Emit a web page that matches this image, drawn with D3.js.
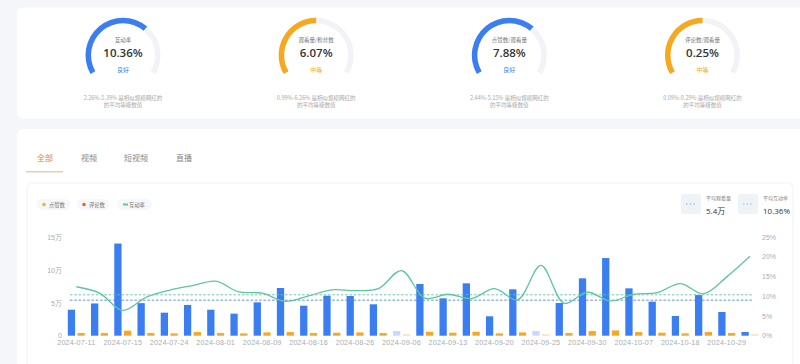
<!DOCTYPE html>
<html><head><meta charset="utf-8">
<script src="https://cdn.jsdelivr.net/npm/d3@7"></script>
<style>
html,body{margin:0;padding:0;background:#f4f6f9;}
svg{display:block;font-family:"Noto Sans CJK SC","Noto Sans",sans-serif;}
</style></head><body>
<svg id="c" width="800" height="364"></svg>
<script>
// ---------- data ----------
const gaugeTitles = ["互动率", "观看量/粉丝数", "点赞数/观看量", "评论数/观看量"];
const gaugeValues = ["10.36%", "6.07%", "7.88%", "0.25%"];
const gaugeRatings = ["良好", "中等", "良好", "中等"];
const gaugeFill = [0.667, 0.5, 0.667, 0.5];
const gaugeRanges = ["2.26%-5.39%", "0.99%-6.26%", "2.44%-5.15%", "0.09%-0.29%"];
const tabs = ["全部", "视频", "短视频", "直播"];
const legendItems = ["点赞数", "评论数", "互动率"];

const dates = ["2024-07-11","2024-07-13","2024-07-15","2024-07-19","2024-07-24","2024-07-28",
  "2024-08-01","2024-08-05","2024-08-09","2024-08-12","2024-08-16","2024-08-21","2024-08-26",
  "2024-09-01","2024-09-06","2024-09-10","2024-09-13","2024-09-17","2024-09-20","2024-09-23",
  "2024-09-25","2024-09-27","2024-09-30","2024-10-03","2024-10-07","2024-10-12","2024-10-18",
  "2024-10-24","2024-10-29","2024-11-03"];
const tickDates = dates.filter((d, i) => i % 2 === 0);
// in 万
const likes = [3.95,4.9,14.0,4.95,3.5,4.67,3.95,3.35,5.07,7.25,4.56,6.08,6.03,4.77,0,7.86,5.68,7.96,2.95,7.05,0,4.97,8.72,11.8,7.2,5.17,3.0,6.18,3.6,0.56];
const comments = [0.4,0.4,0.76,0.4,0.35,0.55,0.4,0.35,0.5,0.55,0.4,0.45,0.5,0.4,0,0.6,0.45,0.6,0.35,0.5,0,0.4,0.7,0.8,0.55,0.45,0.35,0.55,0.4,0];
// %
const rates = [12.4,10.8,6.4,9.7,11.5,12.7,13.8,11.1,10.8,8.7,10.1,11.6,11.4,11.9,16.5,9.5,10.5,9.4,11.9,9.1,17.8,8.2,11.0,8.8,10.5,10.9,13.2,10.6,14.9,20.1];
const leftTicks = [0, 5, 10, 15];
const rightTicks = [0, 5, 10, 15, 20, 25];
const avgViews = 5.4;   // 万
const avgRate = 10.36;  // %

// ---------- draw ----------
const svg = d3.select("#c");
const BLUE = "#3b7ef2", ORANGE = "#f6a81f", GREEN = "#5cc79f";

// cards
svg.append("rect").attr("x", 17).attr("y", 7.5).attr("width", 800).attr("height", 111).attr("rx", 6).attr("fill", "#fff");
svg.append("rect").attr("x", 17).attr("y", 129).attr("width", 800).attr("height", 300).attr("rx", 6).attr("fill", "#fff");

// gauges
const arc = d3.arc().innerRadius(32).outerRadius(37.5);
const a0 = -2 * Math.PI / 3, a1 = 2 * Math.PI / 3;
const gx = d3.scalePoint().domain(d3.range(4)).range([123, 702.5]);
gaugeTitles.forEach((t, i) => {
  const g = svg.append("g").attr("transform", `translate(${gx(i)},55.3)`);
  const col = gaugeRatings[i] === "良好" ? "#3b7ef2" : "#f6a81f";
  g.append("path").attr("d", arc({startAngle: a0, endAngle: a1})).attr("fill", "#f1f3f6");
  g.append("path").attr("d", arc({startAngle: a0, endAngle: a0 + (a1 - a0) * gaugeFill[i]})).attr("fill", col);
  g.append("text").attr("y", -15.3).attr("text-anchor", "middle").attr("dominant-baseline", "central")
    .attr("font-size", 5.5).attr("fill", "#777").text(t);
  g.append("text").attr("y", -3).attr("text-anchor", "middle").attr("dominant-baseline", "central")
    .attr("font-size", 11.5).attr("font-weight", 600).attr("fill", "#333")
    .attr("font-family", "'Open Sans','Noto Sans',sans-serif").text(gaugeValues[i]);
  g.append("text").attr("y", 14).attr("text-anchor", "middle").attr("dominant-baseline", "central")
    .attr("font-size", 6).attr("fill", col).text(gaugeRatings[i]);
  g.append("text").attr("y", 42.4).attr("text-anchor", "middle").attr("dominant-baseline", "central")
    .attr("font-size", 5.5).attr("fill", "#aaa").text(gaugeRanges[i] + " 是相似规模网红的");
  g.append("text").attr("y", 49.4).attr("text-anchor", "middle").attr("dominant-baseline", "central")
    .attr("font-size", 5.5).attr("fill", "#aaa").text("的平均等级数值");
});

// tabs
const tabX = [37, 81, 124, 176];
tabs.forEach((t, i) => {
  svg.append("text").attr("x", tabX[i]).attr("y", 157).attr("dominant-baseline", "central")
    .attr("font-size", 8).attr("fill", i === 0 ? "#e8833a" : "#888").text(t);
});
svg.append("rect").attr("x", 26).attr("y", 171).attr("width", 37).attr("height", 1.5).attr("fill", "#e3d0b4");

// inner panel
svg.append("rect").attr("x", 27).attr("y", 183).attr("width", 766).attr("height", 220).attr("rx", 5)
  .attr("fill", "#fff").attr("stroke", "#f1f2f4");

// legend
const pillX = [37, 77, 117], pillW = [33, 32, 35];
const legCols = ["#f5b31c", "#e8622a", GREEN];
legendItems.forEach((t, i) => {
  svg.append("rect").attr("x", pillX[i]).attr("y", 199).attr("width", pillW[i]).attr("height", 11).attr("rx", 5.5).attr("fill", "#f5f7fa");
  if (i < 2) svg.append("circle").attr("cx", pillX[i] + 7).attr("cy", 204.5).attr("r", 1.8).attr("fill", legCols[i]);
  else svg.append("line").attr("x1", pillX[i] + 6).attr("x2", pillX[i] + 11).attr("y1", 204.5).attr("y2", 204.5).attr("stroke", legCols[i]).attr("stroke-width", 2);
  svg.append("text").attr("x", pillX[i] + 12).attr("y", 204.7).attr("dominant-baseline", "central")
    .attr("font-size", 5.3).attr("fill", "#777").text(t);
});

// average boxes
const boxes = [{x: 681, label: "平均观看量", val: avgViews + "万", col: "#6b95e0"},
               {x: 738, label: "平均互动率", val: avgRate + "%", col: "#7fb0cf"}];
boxes.forEach(b => {
  svg.append("rect").attr("x", b.x).attr("y", 194).attr("width", 20).attr("height", 20).attr("rx", 2).attr("fill", "#eff3f8");
  svg.append("line").attr("x1", b.x + 5).attr("x2", b.x + 16).attr("y1", 204).attr("y2", 204)
    .attr("stroke", b.col).attr("stroke-width", 0.8).attr("stroke-dasharray", "1.5,2.2");
  svg.append("text").attr("x", b.x + 25).attr("y", 197.5).attr("dominant-baseline", "central")
    .attr("font-size", 5).attr("fill", "#888").text(b.label);
  svg.append("text").attr("x", b.x + 25).attr("y", 210).attr("dominant-baseline", "central")
    .attr("font-size", 8).attr("fill", "#333").attr("font-family", "'Open Sans','Noto Sans CJK SC',sans-serif").text(b.val);
});

// scales
const x = d3.scaleBand().domain(dates).range([64.7, 761.6]).padding(0);
const xs = d3.scaleBand().domain(["likes", "comments"]).range([3.1, 20.1]).paddingInner(0.25);
const yL = d3.scaleLinear().domain([0, 15]).range([335.7, 237]);
const yR = d3.scaleLinear().domain([0, 25]).range([335.7, 237]);

// axes
const axL = svg.append("g").attr("transform", "translate(62,0)")
  .call(d3.axisLeft(yL).tickValues(leftTicks).tickSize(0).tickPadding(0).tickFormat(d => d === 0 ? "0" : d + "万"));
const axR = svg.append("g").attr("transform", "translate(762,0)")
  .call(d3.axisRight(yR).tickValues(rightTicks).tickSize(0).tickPadding(0).tickFormat(d => d + "%"));
const axB = svg.append("g").attr("transform", "translate(0,341)")
  .call(d3.axisBottom(x).tickValues(tickDates).tickSize(0).tickPadding(0));
[axL, axR, axB].forEach(a => {
  a.select(".domain").remove();
  a.selectAll("text").attr("fill", "#a9adb3").attr("font-size", 7)
    .attr("font-family", "'Liberation Sans',Arial,'Noto Sans CJK SC',sans-serif");
});
axB.selectAll("text").attr("dy", "0.55em").attr("font-size", 7.2).attr("letter-spacing", 0.2);

// bars
const barG = svg.append("g");
dates.forEach((d, i) => {
  const lv = likes[i], cv = comments[i];
  barG.append("rect").attr("x", x(d) + xs("likes")).attr("width", xs.bandwidth())
    .attr("y", lv > 0 ? yL(lv) : yL(0) - 4.7).attr("height", lv > 0 ? yL(0) - yL(lv) : 4.7)
    .attr("fill", lv > 0 ? BLUE : "#c9dbf8");
  barG.append("rect").attr("x", x(d) + xs("comments")).attr("width", xs.bandwidth())
    .attr("y", cv > 0 ? yL(cv) : yL(0) - 1.3).attr("height", cv > 0 ? yL(0) - yL(cv) : 1.3)
    .attr("fill", cv > 0 ? ORANGE : "#f8dca4");
});

// average lines
const lx0 = 70, lx1 = 752;
svg.append("line").attr("x1", lx0).attr("x2", lx1).attr("y1", yR(avgRate)).attr("y2", yR(avgRate))
  .attr("stroke", GREEN).attr("stroke-width", 0.9).attr("stroke-dasharray", "2.5,1.8");
svg.append("line").attr("x1", lx0).attr("x2", lx1).attr("y1", yL(avgViews)).attr("y2", yL(avgViews))
  .attr("stroke", "#4f82e6").attr("stroke-width", 0.9).attr("stroke-dasharray", "2.5,1.8");

// rate line
const line = d3.line().x((v, i) => x(dates[i]) + x.bandwidth() / 2).y(v => yR(v)).curve(d3.curveCatmullRom.alpha(0.5));
svg.append("path").attr("d", line(rates)).attr("fill", "none").attr("stroke", GREEN).attr("stroke-width", 1.3);
</script>
</body></html>
